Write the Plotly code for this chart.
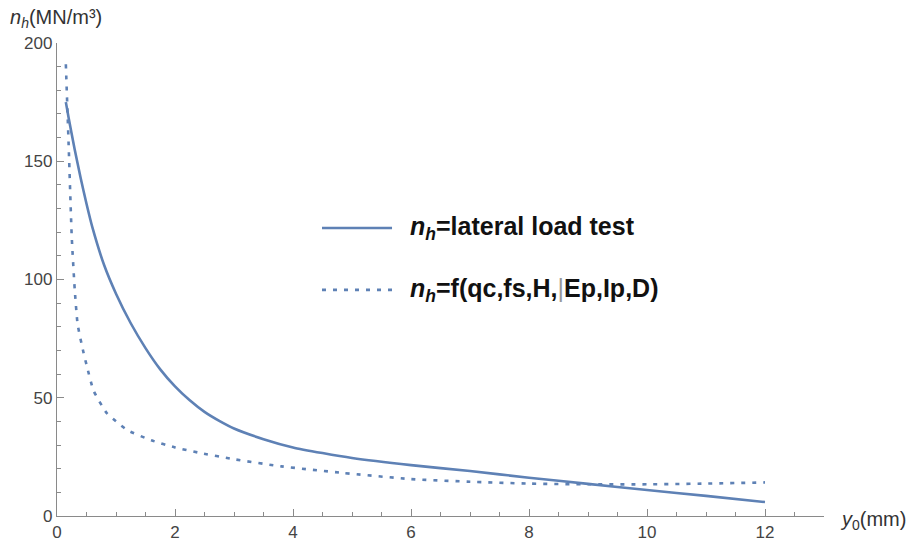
import plotly.graph_objects as go

# Data
y0_lateral = [0.15, 0.2, 0.3, 0.4, 0.5, 0.6, 0.8, 1.0, 1.25, 1.5, 1.75, 2.0, 2.25, 2.5, 2.75, 3.0,
              3.5, 4.0, 4.5, 5.0, 6.0, 7.0, 8.0, 9.0, 10.0, 11.0, 12.0]
nh_lateral = [175, 168, 155, 143, 132, 122, 106, 94, 81.5, 71, 62, 54.8, 48.9, 44, 40.2, 37,
              32.5, 29, 26.6, 24.5, 21.5, 19, 16.2, 13.6, 11, 8.5, 5.9]

y0_formula = [0.15, 0.2, 0.25, 0.3, 0.35, 0.45, 0.5, 0.62, 0.84, 1.0, 1.2, 1.6, 2.0, 2.4,
              3.0, 3.8, 4.85, 6.0, 7.0, 8.0, 9.0, 10.0, 11.0, 12.0]
nh_formula = [191, 155, 118, 96, 81, 69, 64, 53, 43.6, 40, 36.2, 32, 29, 26.8,
              24, 21, 18.2, 15.6, 14.5, 13.7, 13.4, 13.4, 13.7, 14.2]

x_ticks = [0, 2, 4, 6, 8, 10, 12]
y_ticks = [0, 50, 100, 150, 200]

legend_labels = ["<b><i>n</i><sub><i>h</i></sub>=lateral load test</b>",
                 "<b><i>n</i><sub><i>h</i></sub>=f(qc,fs,H,<span style='font-weight:normal;color:#999'>|</span>Ep,Ip,D)</b>"]
x_title = "<i>y</i><sub>0</sub>(mm)"
y_title = "<i>n</i><sub><i>h</i></sub>(MN/m³)"

color = "#5E81B5"
axis_gray = "#8a8a8a"
font_family = "Liberation Sans, Arial, sans-serif"

fig = go.Figure()
fig.add_trace(go.Scatter(x=y0_lateral, y=nh_lateral, mode="lines",
                         line=dict(color=color, width=2.6, shape="spline", smoothing=0.5),
                         showlegend=False))
fig.add_trace(go.Scatter(x=y0_formula, y=nh_formula, mode="lines",
                         line=dict(color=color, width=2.6, dash="4px,7px", shape="spline", smoothing=0.5),
                         showlegend=False))

# legend drawn as shapes + annotations (paper coordinates)
leg_rows = [(0.609, "solid"), (0.478, "4px,7px")]
for (yy, dash), label in zip(leg_rows, legend_labels):
    fig.add_shape(type="line", xref="paper", yref="paper", x0=0.3455, x1=0.4368, y0=yy, y1=yy,
                  line=dict(color=color, width=2.6, dash=dash))
    fig.add_annotation(xref="paper", yref="paper", x=0.4576, y=yy, text=label, showarrow=False,
                       xanchor="left", yanchor="middle", font=dict(size=25, color="#111", family=font_family))

fig.add_annotation(xref="paper", yref="paper", x=-0.064, y=1.052, text=y_title, showarrow=False,
                   xanchor="left", yanchor="middle", font=dict(size=20, color="#333", family=font_family))
fig.add_annotation(xref="paper", yref="paper", x=1.018, y=-0.01, text=x_title, showarrow=False,
                   xanchor="left", yanchor="middle", font=dict(size=20, color="#333", family=font_family))

fig.update_layout(
    width=907, height=542,
    margin=dict(l=57, r=83, t=43, b=26),
    paper_bgcolor="white", plot_bgcolor="white",
    font=dict(family=font_family, size=17, color="#444"),
    xaxis=dict(range=[0, 13], automargin=False, showgrid=False, zeroline=False, showline=True,
               linecolor=axis_gray, linewidth=1.3, ticks="inside", ticklen=7, tickcolor=axis_gray,
               tickwidth=1.2, tickvals=x_ticks, ticktext=[str(v) for v in x_ticks], ticklabelstandoff=0,
               minor=dict(ticks="inside", dtick=0.5, tick0=0, ticklen=4, tickcolor=axis_gray, showgrid=False)),
    yaxis=dict(range=[0, 200], automargin=False, showgrid=False, zeroline=False, showline=True,
               linecolor=axis_gray, linewidth=1.3, ticks="inside", ticklen=7, tickcolor=axis_gray,
               tickwidth=1.2, tickvals=y_ticks, ticktext=[str(v) for v in y_ticks], ticklabelstandoff=0,
               minor=dict(ticks="inside", dtick=10, tick0=0, ticklen=4, tickcolor=axis_gray, showgrid=False)),
)

fig.write_html("out.html")
